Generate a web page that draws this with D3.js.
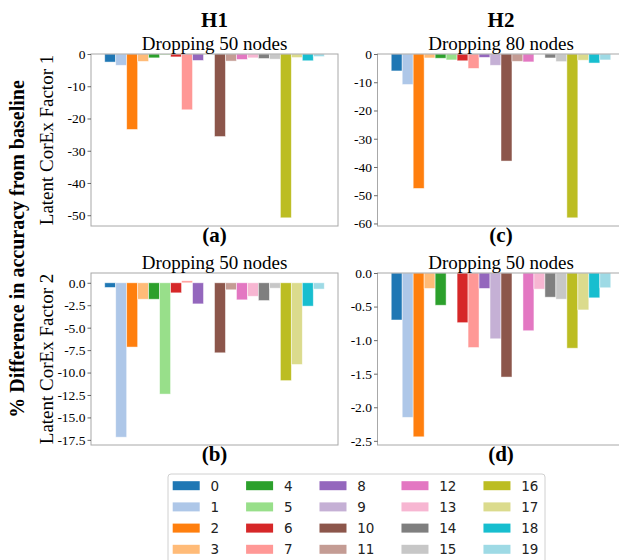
<!DOCTYPE html>
<html>
<head>
<meta charset="utf-8">
<script src="https://cdn.jsdelivr.net/npm/d3@7"></script>
<style>
  body { margin: 0; background: #fff; }
  svg { display: block; }
  .tick text { font-family: "Liberation Serif", "Times New Roman", serif !important; }
</style>
</head>
<body>
<div id="chart"></div>
<script>
// node groups 0..19 (tab20 colours)
const categories = ["0","1","2","3","4","5","6","7","8","9","10","11","12","13","14","15","16","17","18","19"];

// % difference in accuracy from baseline
const h1Factor1 = [-2.5, -3.5, -23.4, -2.3, -1.2, -0.3, -0.9, -17.3, -2.0, 0, -25.6, -2.2, -1.7, -1.2, -1.4, -1.6, -50.8, -1.1, -2.1, -0.8];
const h2Factor1 = [-6.0, -10.8, -47.6, -1.4, -1.5, -2.1, -2.4, -5.1, -1.2, -4.0, -37.9, -2.6, -2.8, 0, -1.4, -2.7, -58.0, -2.2, -3.2, -2.1];
const h1Factor2 = [-0.52, -17.2, -7.16, -1.83, -1.83, -12.4, -1.12, 0.22, -2.35, 0, -7.8, -0.78, -1.9, -1.5, -1.98, -0.6, -10.9, -9.1, -2.6, -0.7];
const h2Factor2 = [-0.70, -2.15, -2.44, -0.23, -0.48, 0, -0.74, -1.11, -0.23, -0.98, -1.55, 0, -0.86, -0.24, -0.36, -0.39, -1.12, -0.55, -0.37, -0.22];

// tick labels
const ticksA = [0, -10, -20, -30, -40, -50];
const ticksC = [0, -10, -20, -30, -40, -50, -60];
const ticksB = [0, -2.5, -5, -7.5, -10, -12.5, -15, -17.5];
const ticksD = [0, -0.5, -1, -1.5, -2, -2.5];

const width = 619;
const height = 560;
const serif = "'Liberation Serif', 'Times New Roman', serif";
const sans = "'DejaVu Sans', sans-serif";

const color = d3.scaleOrdinal()
    .domain(categories)
    .range(["#1f77b4","#aec7e8","#ff7f0e","#ffbb78","#2ca02c","#98df8a","#d62728","#ff9896","#9467bd","#c5b0d5","#8c564b","#c49c94","#e377c2","#f7b6d2","#7f7f7f","#c7c7c7","#bcbd22","#dbdb8d","#17becf","#9edae5"]);

const svg = d3.select("#chart").append("svg")
    .attr("width", width)
    .attr("height", height);

svg.append("rect").attr("width", width).attr("height", height).attr("fill", "#fff");

const panelW = 247, panelH = 172;

// plain hyphen like matplotlib's serif output
const intFmt = d => d3.format("d")(d).replace("\u2212", "-");
const oneFmt = d => d3.format(".1f")(d).replace("\u2212", "-");

const panels = [
    { values: h1Factor1, ticks: ticksA, fmt: intFmt, title: "Dropping 50 nodes", tag: "(a)", left: 91,    top: 54 },
    { values: h2Factor1, ticks: ticksC, fmt: intFmt, title: "Dropping 80 nodes", tag: "(c)", left: 377.5, top: 54 },
    { values: h1Factor2, ticks: ticksB, fmt: oneFmt, title: "Dropping 50 nodes", tag: "(b)", left: 91,    top: 273 },
    { values: h2Factor2, ticks: ticksD, fmt: oneFmt, title: "Dropping 50 nodes", tag: "(d)", left: 377.5, top: 273 }
];

panels.forEach(p => {
    const g = svg.append("g").attr("transform", `translate(${p.left},${p.top})`);

    // matplotlib-like limits: 5% margin, sticky at 0
    const lo = Math.min(d3.min(p.values), 0);
    const hi = Math.max(d3.max(p.values), 0);
    const span = hi - lo;
    const y = d3.scaleLinear()
        .domain([lo < 0 ? lo - 0.05 * span : 0, hi > 0 ? hi + 0.05 * span : 0])
        .range([panelH, 0]);

    const x = d3.scaleBand()
        .domain(categories)
        .range([0, panelW])
        .paddingInner(0)
        .paddingOuter(1.25);

    g.selectAll("rect.bar")
        .data(p.values.map((v, i) => ({ key: categories[i], value: v })))
        .enter()
        .append("rect")
        .attr("class", "bar")
        .attr("x", d => x(d.key))
        .attr("width", x.bandwidth())
        .attr("y", d => y(Math.max(0, d.value)))
        .attr("height", d => Math.abs(y(d.value) - y(0)))
        .attr("fill", d => color(d.key))
        .attr("stroke", "#fff")
        .attr("stroke-opacity", 0.6)
        .attr("stroke-width", 0.8);

    // frame
    g.append("rect")
        .attr("x", 0).attr("y", 0)
        .attr("width", panelW).attr("height", panelH)
        .attr("fill", "none")
        .attr("stroke", "#a8a8a8")
        .attr("stroke-width", 1);

    const axis = d3.axisLeft(y)
        .tickValues(p.ticks)
        .tickFormat(p.fmt)
        .tickSize(3.5)
        .tickPadding(2);

    const ax = g.append("g")
        .call(axis)
        .attr("font-family", serif)
        .attr("font-size", 13.5);
    ax.select(".domain").remove();
    ax.selectAll(".tick line").attr("stroke", "#444").attr("stroke-width", 0.8);
    ax.selectAll(".tick text").attr("fill", "#000");

    g.append("text")
        .attr("x", panelW / 2)
        .attr("y", -4)
        .attr("text-anchor", "middle")
        .style("font-family", serif)
        .style("font-size", "19px")
        .text(p.title);

    g.append("text")
        .attr("x", panelW / 2)
        .attr("y", panelH + 16)
        .attr("text-anchor", "middle")
        .style("font-family", serif)
        .style("font-size", "21px")
        .style("font-weight", "bold")
        .text(p.tag);
});

// column headers
[["H1", 91 + panelW / 2], ["H2", 377.5 + panelW / 2]].forEach(([t, cx]) => {
    svg.append("text")
        .attr("x", cx).attr("y", 27)
        .attr("text-anchor", "middle")
        .style("font-family", serif)
        .style("font-size", "21px")
        .style("font-weight", "bold")
        .text(t);
});

// row labels
[["Latent CorEx Factor 1", 54 + panelH / 2], ["Latent CorEx Factor 2", 273 + panelH / 2]].forEach(([t, cy]) => {
    svg.append("text")
        .attr("transform", `translate(53,${cy}) rotate(-90)`)
        .attr("text-anchor", "middle")
        .style("font-family", serif)
        .style("font-size", "19px")
        .text(t);
});

svg.append("text")
    .attr("transform", "translate(24,249) rotate(-90)")
    .attr("text-anchor", "middle")
    .style("font-family", serif)
    .style("font-size", "20px")
    .style("font-weight", "bold")
    .text("% Difference in accuracy from baseline");

// legend: 5 columns x 4 rows, column-major like matplotlib
const fs = 13.5;
const handleLen = 2 * fs, handlePad = 0.8 * fs, colSpace = 2 * fs, rowStep = 21.2;
const nRows = 4;
const legend = svg.append("g");
legend.append("rect")
    .attr("x", 168).attr("y", 474)
    .attr("width", 377).attr("height", 96)
    .attr("rx", 3)
    .attr("fill", "#fff")
    .attr("stroke", "#d0d0d0")
    .attr("stroke-width", 1);

let colX = 172.7;
d3.range(Math.ceil(categories.length / nRows)).forEach(c => {
    const items = categories.slice(c * nRows, c * nRows + nRows);
    let maxW = 0;
    items.forEach((k, r) => {
        const cy = 485.7 + r * rowStep;
        legend.append("rect")
            .attr("x", colX).attr("y", cy - 4.5)
            .attr("width", handleLen).attr("height", 9)
            .attr("fill", color(k));
        const t = legend.append("text")
            .attr("x", colX + handleLen + handlePad)
            .attr("y", cy)
            .attr("dy", "0.36em")
            .style("font-family", sans)
            .style("font-size", fs + "px")
            .attr("fill", "#222")
            .text(k);
        maxW = Math.max(maxW, t.node().getComputedTextLength());
    });
    colX += handleLen + handlePad + maxW + colSpace;
});
</script>
</body>
</html>
